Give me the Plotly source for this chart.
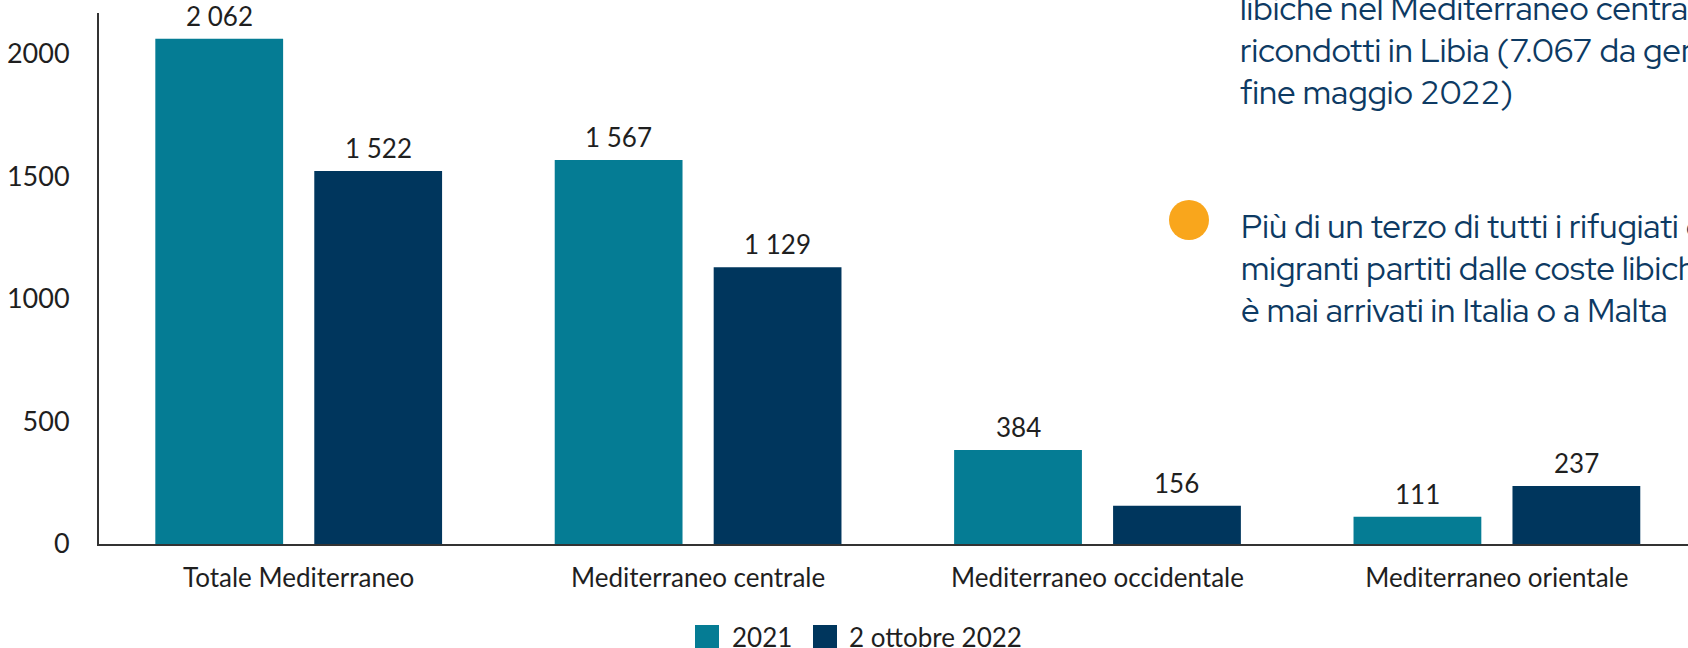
import plotly.graph_objects as go

# Chart data
categories = ["Totale Mediterraneo", "Mediterraneo centrale",
              "Mediterraneo occidentale", "Mediterraneo orientale"]
values_2021 = [2062, 1567, 384, 111]
values_2022 = [1522, 1129, 156, 237]
series_names = ["2021", "2 ottobre 2022"]
y_ticks = [0, 500, 1000, 1500, 2000]

# Side text (cut off at the right edge in the original)
block1_lines = ["libiche nel Mediterraneo centrale e",
                "ricondotti in Libia (7.067 da gennaio a",
                "fine maggio 2022)"]
block2_lines = ["Più di un terzo di tutti i rifugiati e",
                "migranti partiti dalle coste libiche non",
                "è mai arrivati in Italia o a Malta"]

TEAL = "#057C94"
NAVY = "#00365D"
TEXT = "#1f1f1f"
BLUE_TEXT = "#0d3a63"
ORANGE = "#F9A61C"
FONT = "Lato, sans-serif"
SIDE_FONT = "Red Hat Display, Inter, sans-serif"

W, H = 1688, 648
ML, MR, MT, MB = 99, 0, 13, 104
PW, PH = W - ML - MR, H - MT - MB


def px(x):
    return (x - ML) / PW


def py(y):
    return (H - MB - y) / PH


BAR_W = 0.32
OFFSETS = [-0.359, 0.039]
positions = list(range(len(categories)))

fig = go.Figure()
for vals, name, color, off in zip([values_2021, values_2022], series_names,
                                  [TEAL, NAVY], OFFSETS):
    fig.add_trace(go.Bar(
        x=positions, y=vals, name=name, width=BAR_W, offset=off,
        marker=dict(color=color, line=dict(width=0)),
        showlegend=False,
        hovertemplate="%{y}<extra>" + name + "</extra>",
    ))
    for p, v in zip(positions, vals):
        fig.add_annotation(
            x=p + off + BAR_W / 2, y=v, text=f"{v:,}".replace(",", " "),
            showarrow=False, yanchor="middle", yshift=23,
            font=dict(family=FONT, size=26, color=TEXT),
        )

# manual legend with large squares
legend_items = [(695, 730), (813, 847)]
for (sx, tx), name, color in zip(legend_items, series_names, [TEAL, NAVY]):
    fig.add_shape(type="rect", xref="paper", yref="paper",
                  x0=px(sx), x1=px(sx + 24), y0=py(649), y1=py(625),
                  fillcolor=color, line=dict(width=0))
    fig.add_annotation(xref="paper", yref="paper", x=px(tx), y=py(637),
                       text=name, showarrow=False, xanchor="left",
                       yanchor="middle",
                       font=dict(family=FONT, size=26, color=TEXT))

# side text
for i, line in enumerate(block1_lines):
    fig.add_annotation(xref="paper", yref="paper", x=px(1238),
                       y=py(8 + 42 * i), text=line, showarrow=False,
                       xanchor="left", yanchor="middle",
                       font=dict(family=SIDE_FONT, size=33, color=BLUE_TEXT))
for i, line in enumerate(block2_lines):
    fig.add_annotation(xref="paper", yref="paper", x=px(1239),
                       y=py(226 + 42 * i), text=line, showarrow=False,
                       xanchor="left", yanchor="middle",
                       font=dict(family=SIDE_FONT, size=33, color=BLUE_TEXT))
fig.add_shape(type="circle", xref="paper", yref="paper",
              x0=px(1169), x1=px(1209), y0=py(240), y1=py(200),
              fillcolor=ORANGE, line=dict(width=0))

fig.update_layout(
    width=W, height=H, autosize=False,
    margin=dict(l=ML, r=MR, t=MT, b=MB),
    plot_bgcolor="white", paper_bgcolor="white",
    font=dict(family=FONT, size=26, color=TEXT),
    barmode="overlay",
    xaxis=dict(range=[-0.5, -0.5 + PW / 399.4], tickvals=positions,
               ticktext=categories, showline=True, linecolor="#333",
               linewidth=2, showgrid=False, zeroline=False, ticks="",
               ticklabelstandoff=10, fixedrange=True),
    yaxis=dict(range=[0, 2167], tickvals=y_ticks, showline=True,
               linecolor="#333", linewidth=2, showgrid=False, zeroline=False,
               ticks="", ticklabelstandoff=22, tickfont=dict(size=27),
               fixedrange=True),
)

# drop the default page margin so the figure sits at the window corner
fig.write_html("out.html", config={"displayModeBar": False},
               post_script="document.body.style.margin='0';")
